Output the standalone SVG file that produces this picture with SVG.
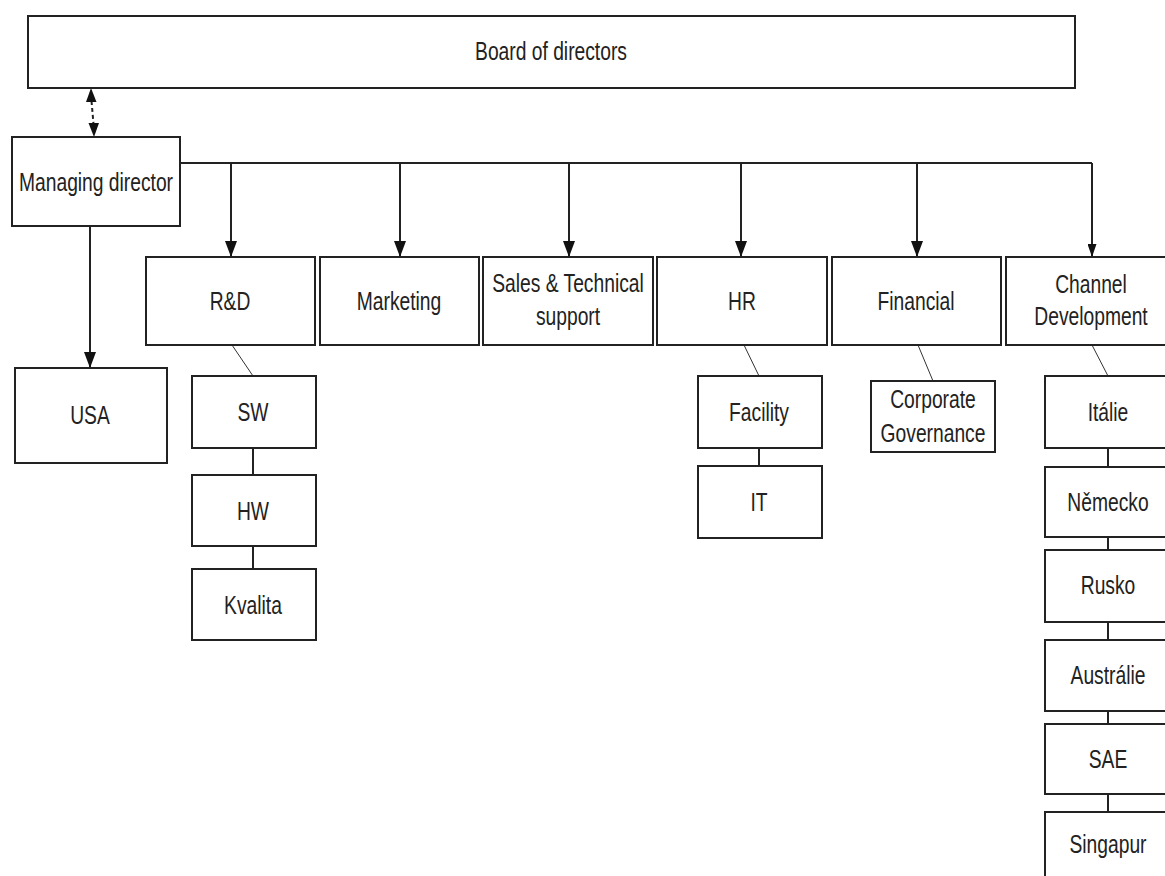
<svg xmlns="http://www.w3.org/2000/svg" width="1165" height="876" viewBox="0 0 1165 876">
<defs>
<style>
.box{fill:#fff;stroke:#222;stroke-width:2}
.t{font-family:"Liberation Sans",Arial,sans-serif;font-size:25px;fill:#222;text-anchor:middle}
.c{fill:none;stroke:#222;stroke-width:2}
.d{fill:none;stroke:#333;stroke-width:1}
.head{fill:#111}
</style>
<marker id="ah" viewBox="0 0 16 12" refX="16" refY="6" markerWidth="16" markerHeight="12" markerUnits="userSpaceOnUse" orient="auto-start-reverse"><path d="M0,0 L16,6 L0,12 z" fill="#111"/></marker>
<marker id="ahs" viewBox="0 0 13 9" refX="13" refY="4.5" markerWidth="13" markerHeight="9" markerUnits="userSpaceOnUse" orient="auto-start-reverse"><path d="M0,0 L13,4.5 L0,9 z" fill="#111"/></marker>
</defs>
<rect width="1165" height="876" fill="#fff"/>
<g id="connectors">
<line x1="91.5" y1="101" x2="93.5" y2="124" class="c" stroke-dasharray="4,3"/>
<path class="head" d="M91,88 L96.5,102 L86,102 z"/>
<path class="head" d="M94,137 L88.5,123 L99,123 z"/>
<polyline points="180,163 1092,163" class="c"/>
<line x1="231" y1="163" x2="231" y2="257" class="c" marker-end="url(#ah)"/>
<line x1="400" y1="163" x2="400" y2="257" class="c" marker-end="url(#ah)"/>
<line x1="569" y1="163" x2="569" y2="257" class="c" marker-end="url(#ah)"/>
<line x1="741" y1="163" x2="741" y2="257" class="c" marker-end="url(#ah)"/>
<line x1="917" y1="163" x2="917" y2="257" class="c" marker-end="url(#ah)"/>
<line x1="1092" y1="163" x2="1092" y2="257" class="c" marker-end="url(#ahs)"/>
<line x1="90" y1="226" x2="90" y2="368" class="c" marker-end="url(#ah)"/>
<line x1="232" y1="345" x2="253" y2="376" class="d"/>
<line x1="253" y1="448" x2="253" y2="475" class="c"/>
<line x1="253" y1="546" x2="253" y2="569" class="c"/>
<line x1="744" y1="345" x2="759" y2="376" class="d"/>
<line x1="759" y1="448" x2="759" y2="466" class="c"/>
<line x1="918" y1="345" x2="933" y2="381" class="d"/>
<line x1="1092" y1="345" x2="1108" y2="376" class="d"/>
<line x1="1108" y1="448" x2="1108" y2="467" class="c"/>
<line x1="1108" y1="537" x2="1108" y2="550" class="c"/>
<line x1="1108" y1="622" x2="1108" y2="640" class="c"/>
<line x1="1108" y1="711" x2="1108" y2="724" class="c"/>
<line x1="1108" y1="794" x2="1108" y2="812" class="c"/>
</g>
<g id="board"><rect class="box" x="28" y="16" width="1047" height="72"/><text class="t" transform="translate(551,60) scale(0.77,1)">Board of directors</text></g>
<g id="managing"><rect class="box" x="12" y="137" width="168" height="89"/><text class="t" transform="translate(96,191) scale(0.77,1)">Managing director</text></g>
<g id="usa"><rect class="box" x="15" y="368" width="152" height="95"/><text class="t" transform="translate(90,424) scale(0.77,1)">USA</text></g>
<g id="rd"><rect class="box" x="146" y="257" width="169" height="88"/><text class="t" transform="translate(230,310) scale(0.77,1)">R&amp;D</text></g>
<g id="marketing"><rect class="box" x="320" y="257" width="159" height="88"/><text class="t" transform="translate(399,310) scale(0.77,1)">Marketing</text></g>
<g id="sales"><rect class="box" x="483" y="257" width="170" height="88"/><text class="t" transform="translate(568,292) scale(0.77,1)">Sales &amp; Technical</text><text class="t" transform="translate(568,325) scale(0.77,1)">support</text></g>
<g id="hr"><rect class="box" x="657" y="257" width="170" height="88"/><text class="t" transform="translate(742,310) scale(0.77,1)">HR</text></g>
<g id="financial"><rect class="box" x="832" y="257" width="169" height="88"/><text class="t" transform="translate(916,310) scale(0.77,1)">Financial</text></g>
<g id="channel"><rect class="box" x="1006" y="257" width="175" height="88"/><text class="t" transform="translate(1091,293) scale(0.77,1)">Channel</text><text class="t" transform="translate(1091,325) scale(0.77,1)">Development</text></g>
<g id="sw"><rect class="box" x="192" y="376" width="124" height="72"/><text class="t" transform="translate(253,421) scale(0.77,1)">SW</text></g>
<g id="hw"><rect class="box" x="192" y="475" width="124" height="71"/><text class="t" transform="translate(253,520) scale(0.77,1)">HW</text></g>
<g id="kvalita"><rect class="box" x="192" y="569" width="124" height="71"/><text class="t" transform="translate(253,614) scale(0.77,1)">Kvalita</text></g>
<g id="facility"><rect class="box" x="698" y="376" width="124" height="72"/><text class="t" transform="translate(759,421) scale(0.77,1)">Facility</text></g>
<g id="it"><rect class="box" x="698" y="466" width="124" height="72"/><text class="t" transform="translate(759,511) scale(0.77,1)">IT</text></g>
<g id="corporate"><rect class="box" x="871" y="381" width="124" height="71"/><text class="t" transform="translate(933,408) scale(0.77,1)">Corporate</text><text class="t" transform="translate(933,442) scale(0.77,1)">Governance</text></g>
<g id="italie"><rect class="box" x="1045" y="376" width="130" height="72"/><text class="t" transform="translate(1108,421) scale(0.77,1)">Itálie</text></g>
<g id="nemecko"><rect class="box" x="1045" y="467" width="130" height="70"/><text class="t" transform="translate(1108,511) scale(0.77,1)">Německo</text></g>
<g id="rusko"><rect class="box" x="1045" y="550" width="130" height="72"/><text class="t" transform="translate(1108,594) scale(0.77,1)">Rusko</text></g>
<g id="australie"><rect class="box" x="1045" y="640" width="130" height="71"/><text class="t" transform="translate(1108,684) scale(0.77,1)">Austrálie</text></g>
<g id="sae"><rect class="box" x="1045" y="724" width="130" height="70"/><text class="t" transform="translate(1108,768) scale(0.77,1)">SAE</text></g>
<g id="singapur"><rect class="box" x="1045" y="812" width="130" height="80"/><text class="t" transform="translate(1108,853) scale(0.77,1)">Singapur</text></g>
</svg>
